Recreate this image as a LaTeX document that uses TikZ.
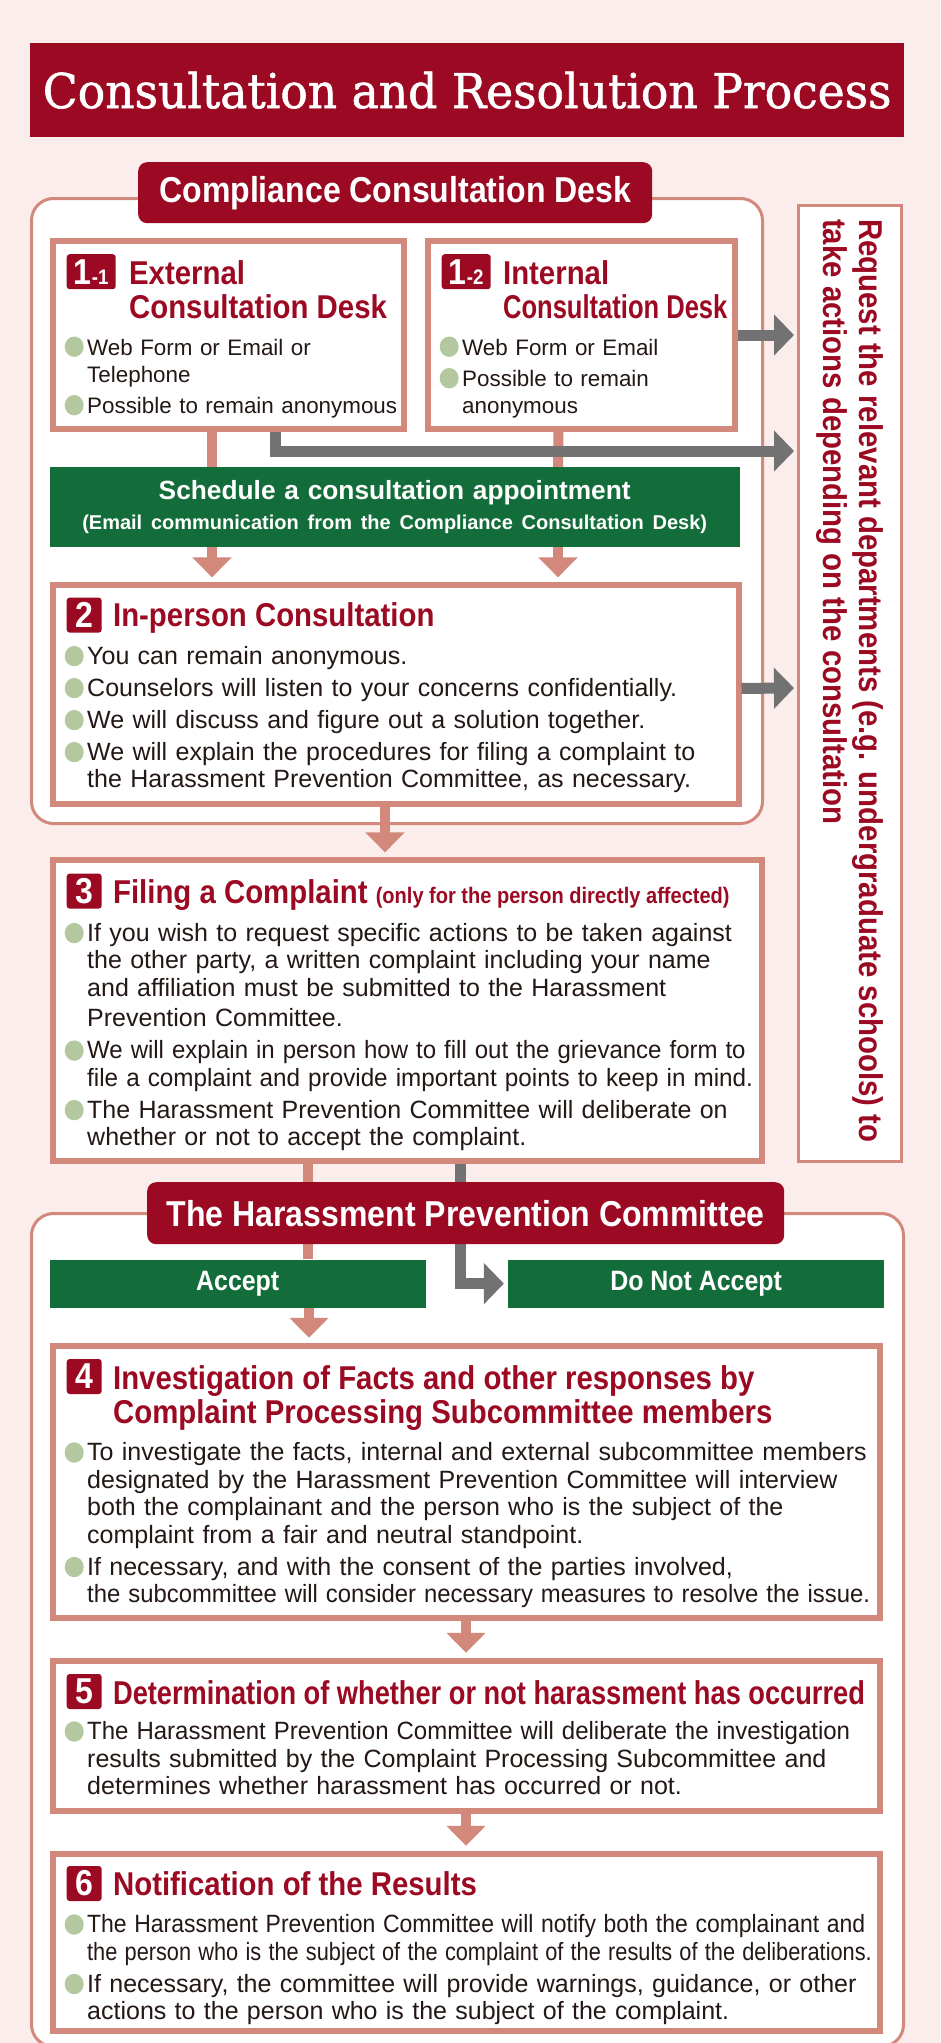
\documentclass[tikz,border=0pt]{standalone}
\usepackage{fontspec}
\usepackage{graphicx}
\setmainfont{Liberation Sans}
\newfontfamily\condfont{Liberation Sans}[FakeStretch=0.89]
\newfontfamily\titlefont{DejaVu Serif}[FakeStretch=0.95, FakeBold=1.2]
\usetikzlibrary{arrows.meta, positioning}
\definecolor{bgpink}{HTML}{FBEDEB}
\definecolor{wine}{HTML}{9B0A22}
\definecolor{salmon}{HTML}{D3887C}
\definecolor{deskgreen}{HTML}{136D3B}
\definecolor{arrowgray}{HTML}{727272}
\definecolor{dotgreen}{HTML}{B3C89F}
\definecolor{ink}{HTML}{231815}
\newcommand{\greendot}{\tikz[baseline=0pt]\fill[dotgreen] (9.5pt,8.3pt) ellipse [x radius=9.5pt, y radius=10.2pt];}
\newcommand{\bulletitem}[1]{\par\noindent\hangindent=22.5pt\hangafter=1\makebox[22.5pt][l]{\greendot}#1\par}
\newcommand{\squeeze}[2]{\scalebox{#1}[1]{#2}}
\tikzset{
  titlebar/.style={rectangle, fill=wine, text=white, anchor=north west, inner sep=0pt, minimum width=874pt, minimum height=94pt, font=\titlefont\fontsize{48pt}{48pt}\selectfont},
  deskframe/.style={rectangle, draw=salmon, line width=3pt, fill=white, rounded corners=22pt, anchor=north west, inner sep=0pt},
  reqbox/.style={rectangle, draw=salmon, line width=3pt, fill=white, anchor=north west, inner sep=0pt, minimum width=103pt, minimum height=956pt},
  reqtext/.style={rotate=-90, anchor=north west, inner sep=0pt, align=left, text=wine, font=\condfont\bfseries\fontsize{33pt}{36pt}\selectfont},
  stepbox/.style={rectangle, draw=salmon, line width=6pt, fill=white, anchor=north west, inner sep=0pt},
  numbox/.style={rectangle, fill=wine, text=white, rounded corners=3pt, minimum width=35pt, minimum height=35pt, inner sep=0pt, font=\condfont\bfseries\fontsize{36pt}{36pt}\selectfont},
  headtext/.style={anchor=base west, inner sep=0pt, align=left, text=wine, font=\condfont\bfseries\fontsize{33pt}{34.5pt}\selectfont},
  bodytext/.style={anchor=base west, inner sep=0pt, align=left, text width=900pt, text=ink, font=\fontsize{25pt}{27.5pt}\selectfont, execute at begin node={\setlength{\parskip}{4.5pt}\hyphenpenalty=10000}},
  greenbar/.style={rectangle, fill=deskgreen, text=white, anchor=north west, inner sep=0pt, align=center},
  tabtitle/.style={rectangle, fill=wine, text=white, rounded corners=9pt, anchor=north west, inner sep=0pt, font=\condfont\bfseries\fontsize{36pt}{36pt}\selectfont},
  pinkline/.style={draw=salmon, line width=10pt},
  pinkarrow/.style={pinkline, -{Triangle[width=38pt, length=20pt]}, shorten >=5pt},
  grayarrow/.style={draw=arrowgray, line width=11pt, -{Triangle[width=40pt, length=20pt]}, shorten >=3pt}
}
\begin{document}
\begin{tikzpicture}[x=1pt, y=1pt]
  \useasboundingbox (0,0) rectangle (940,-2043);
  \fill[bgpink] (0,0) rectangle (940,-2043);

  \node[titlebar] (title) at (30,-43) {Consultation and Resolution Process};

  \node[deskframe, minimum width=731pt, minimum height=625pt] (frameA) at (30,-197) {};
  \node[deskframe, minimum width=872pt, minimum height=833pt] (frameB) at (30,-1212) {};

  \node[reqbox] (req) at (797,-204) {};
  \node[reqtext] (reqtxt) at ([xshift=-19pt,yshift=-15pt]req.north east) {Request the relevant departments (e.g. undergraduate schools) to\\take actions depending on the consultation};

  \node[stepbox, minimum width=351pt, minimum height=188pt] (ext) at (49.5,-238) {};
  \node[stepbox, minimum width=307pt, minimum height=188pt, right=18pt of ext] (int) {};
  \node[greenbar, minimum width=690pt, minimum height=80pt, text width=690pt, font=\bfseries\fontsize{26.3pt}{30pt}\selectfont, below=35pt of ext.south west, anchor=north west] (sched) {Schedule a consultation appointment\\{\fontsize{20pt}{24pt}\selectfont(Email communication from the Compliance Consultation Desk)}};
  \node[stepbox, minimum width=686pt, minimum height=219pt, below=35pt of sched.south west, anchor=north west] (inper) {};
  \node[stepbox, minimum width=709pt, minimum height=301pt, below=50pt of inper.south west, anchor=north west] (filing) {};
  \node[greenbar, minimum width=376pt, minimum height=48pt, font=\condfont\bfseries\fontsize{28pt}{28pt}\selectfont, below=95pt of filing.south west, anchor=north west] (accept) {Accept};
  \node[greenbar, minimum width=376pt, minimum height=48pt, font=\condfont\bfseries\fontsize{28pt}{28pt}\selectfont, right=82pt of accept] (notacc) {Do Not Accept};
  \node[stepbox, minimum width=827pt, minimum height=272pt, below=35pt of accept.south west, anchor=north west] (invest) {};
  \node[stepbox, minimum width=827pt, minimum height=150pt, below=37pt of invest.south west, anchor=north west] (determ) {};
  \node[stepbox, minimum width=827pt, minimum height=177pt, below=37pt of determ.south west, anchor=north west] (notif) {};

  \node[numbox, minimum width=49pt, below right=16pt and 17pt of ext.north west] (n11) {1{\fontsize{21pt}{21pt}\selectfont -1}};
  \node[headtext] (h11) at ([xshift=13pt,yshift=-29.5pt]n11.south east) {External\\Consultation Desk};
  \node[bodytext, font=\fontsize{22.4pt}{27pt}\selectfont] (t11) at ([xshift=15pt,yshift=-85.5pt]ext.north west) {%
    \bulletitem{Web Form or Email or\newline Telephone}
    \bulletitem{Possible to remain anonymous}};

  \node[numbox, minimum width=49pt, below right=16pt and 17pt of int.north west] (n12) {1{\fontsize{21pt}{21pt}\selectfont -2}};
  \node[headtext] (h12) at ([xshift=12pt,yshift=-29.5pt]n12.south east) {Internal\\\squeeze{0.87}{Consultation Desk}};
  \node[bodytext, font=\fontsize{22.4pt}{27pt}\selectfont] (t12) at ([xshift=15pt,yshift=-85.5pt]int.north west) {%
    \bulletitem{Web Form or Email}
    \bulletitem{Possible to remain\newline anonymous}};

  \node[numbox, below right=15pt and 17pt of inper.north west] (n2) {2};
  \node[headtext] (h2) at ([xshift=11pt,yshift=6pt]n2.south east) {In-person Consultation};
  \node[bodytext] (t2) at ([xshift=15pt,yshift=-50pt]inper.north west) {%
    \bulletitem{You can remain anonymous.}
    \bulletitem{Counselors will listen to your concerns confidentially.}
    \bulletitem{We will discuss and figure out a solution together.}
    \bulletitem{We will explain the procedures for filing a complaint to\newline the Harassment Prevention Committee, as necessary.}};

  \node[numbox, below right=16pt and 17pt of filing.north west] (n3) {3};
  \node[headtext] (h3) at ([xshift=11pt,yshift=5pt]n3.south east) {Filing a Complaint {\fontsize{22.5pt}{23pt}\selectfont(only for the person directly affected)}};
  \node[bodytext] (t3) at ([xshift=15pt,yshift=-52pt]filing.north west) {%
    \bulletitem{If you wish to request specific actions to be taken against\newline the other party, a written complaint including your name\newline and affiliation must be submitted to the Harassment\vadjust{\vskip3pt}\newline Prevention Committee.}
    \bulletitem{\squeeze{0.96}{We will explain in person how to fill out the grievance form to}\newline \squeeze{0.97}{file a complaint and provide important points to keep in mind.}}
    \bulletitem{The Harassment Prevention Committee will deliberate on\newline whether or not to accept the complaint.}};

  \node[numbox, below right=16pt and 17pt of invest.north west] (n4) {4};
  \node[headtext] (h4) at ([xshift=11pt,yshift=-29.5pt]n4.south east) {Investigation of Facts and other responses by\\Complaint Processing Subcommittee members};
  \node[bodytext] (t4) at ([xshift=15pt,yshift=-86pt]invest.north west) {%
    \bulletitem{To investigate the facts, internal and external subcommittee members\newline designated by the Harassment Prevention Committee will interview\newline both the complainant and the person who is the subject of the\newline complaint from a fair and neutral standpoint.}
    \bulletitem{If necessary, and with the consent of the parties involved,\newline \squeeze{0.955}{the subcommittee will consider necessary measures to resolve the issue.}}};

  \node[numbox, below right=16pt and 17pt of determ.north west] (n5) {5};
  \node[headtext] (h5) at ([xshift=11pt,yshift=5pt]n5.south east) {\squeeze{0.927}{Determination of whether or not harassment has occurred}};
  \node[bodytext] (t5) at ([xshift=15pt,yshift=-50pt]determ.north west) {%
    \bulletitem{\squeeze{0.96}{The Harassment Prevention Committee will deliberate the investigation}\newline results submitted by the Complaint Processing Subcommittee and\newline determines whether harassment has occurred or not.}};

  \node[numbox, below right=15pt and 17pt of notif.north west] (n6) {6};
  \node[headtext] (h6) at ([xshift=11pt,yshift=6pt]n6.south east) {Notification of the Results};
  \node[bodytext] (t6) at ([xshift=15pt,yshift=-50pt]notif.north west) {%
    \bulletitem{\squeeze{0.918}{The Harassment Prevention Committee will notify both the complainant and}\newline \squeeze{0.87}{the person who is the subject of the complaint of the results of the deliberations.}}
    \bulletitem{If necessary, the committee will provide warnings, guidance, or other\newline actions to the person who is the subject of the complaint.}};

  \draw[pinkline] ([xshift=162.5pt]ext.south west) -- ([xshift=162.5pt]sched.north west);
  \draw[pinkline] ([xshift=134pt]int.south west) -- ([xshift=508.5pt]sched.north west);
  \draw[pinkarrow] ([xshift=162.5pt]sched.south west) -- ([xshift=162.5pt]inper.north west);
  \draw[pinkarrow] ([xshift=508.5pt]sched.south west) -- ([xshift=508.5pt]inper.north west);
  \draw[pinkarrow] ([xshift=335.5pt]inper.south west) -- ([xshift=335.5pt]filing.north west);
  \draw[pinkline] ([xshift=258.5pt]filing.south west) -- ([xshift=258.5pt]accept.north west);
  \draw[pinkarrow] ([xshift=259.5pt]accept.south west) -- ([xshift=259.5pt]invest.north west);
  \draw[pinkarrow] (invest.south) -- (determ.north);
  \draw[pinkarrow] (determ.south) -- (notif.north);

  \draw[grayarrow] (int.east) -- (int.east -| req.west);
  \draw[grayarrow] ([xshift=225.5pt]ext.south west) |- ([yshift=232.5pt]req.west);
  \draw[grayarrow] ([yshift=6.5pt]inper.east) -- ([yshift=-4.5pt]req.west);
  \draw[grayarrow, shorten >=4pt] ([xshift=410.5pt]filing.south west) |- (notacc.west);

  \node[tabtitle, minimum width=514pt, minimum height=61pt] (cdesk) at (138,-162) {Compliance Consultation Desk};
  \node[tabtitle, minimum width=637pt, minimum height=62pt] (hpc) at (147,-1182) {The Harassment Prevention Committee};
\end{tikzpicture}
\end{document}
